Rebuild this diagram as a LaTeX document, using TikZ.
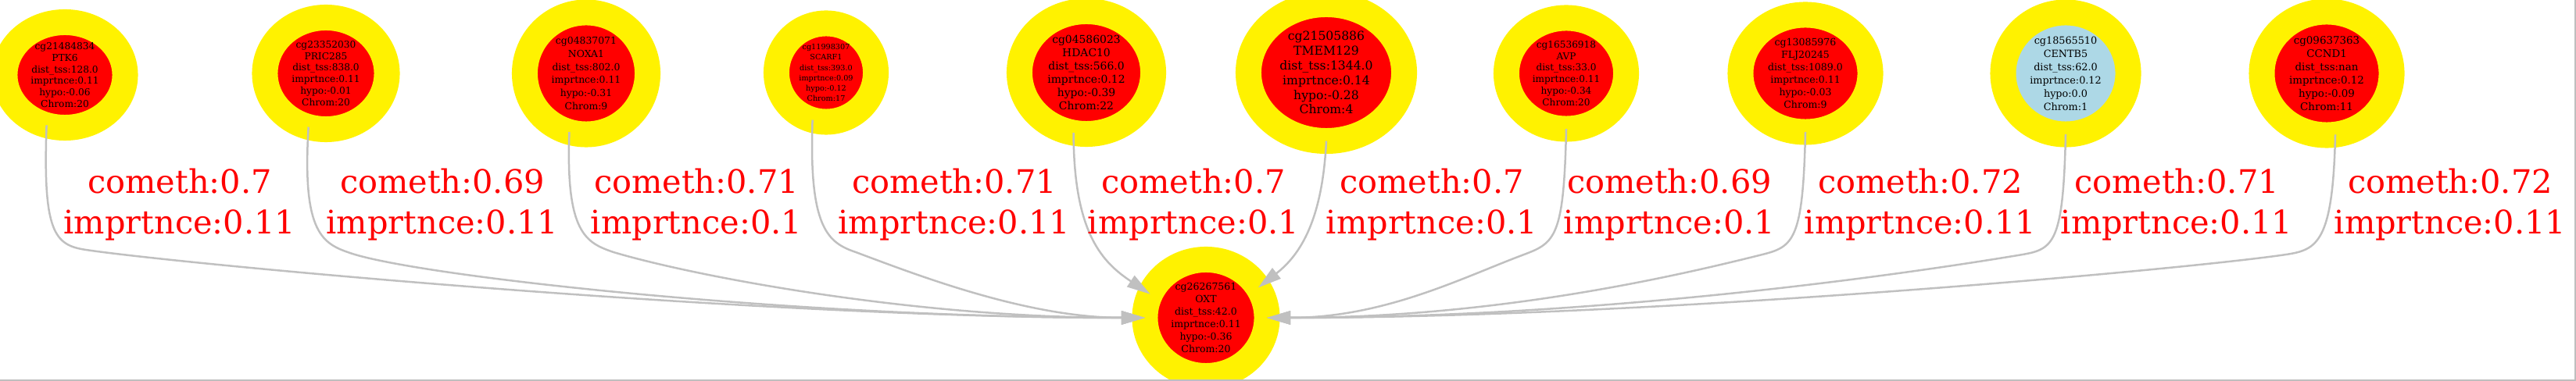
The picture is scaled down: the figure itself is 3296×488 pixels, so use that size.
\documentclass[tikz,border=0pt]{standalone}
\usepackage{fontspec}
\setmainfont{DejaVu Serif}
\usetikzlibrary{shapes.geometric,arrows.meta}

\definecolor{edgegray}{HTML}{C0C0C0}
\definecolor{lightblue}{HTML}{ADD8E6}

\tikzset{
  cpg/.style n args={5}{ellipse, fill=#5, draw=yellow, line width=0.33cm,
    inner sep=0pt, outer sep=0pt, minimum width=#1, minimum height=#2,
    align=center, text=black, font=\fontsize{#3}{#4}\selectfont},
  cometh/.style={draw=edgegray, line width=0.025cm},
  colab/.style={text=red, align=center, font=\fontsize{11.8}{14.6}\selectfont}
}

\begin{document}
\begin{tikzpicture}[x=0.01cm, y=0.01cm, >={Triangle[length=0.3cm,width=0.17cm]}]
\useasboundingbox (0,0) rectangle (3296,488);

% 上排 CpG 节点
\node[cpg={1.54cm}{1.35cm}{3.47}{4.21}{red}] (n1) at (83,392) {cg21484834\\PTK6\\dist\_tss:128.0\\imprtnce:0.11\\hypo:-0.06\\Chrom:20};
\node[cpg={1.56cm}{1.43cm}{3.47}{4.24}{red}] (n2) at (417,394) {cg23352030\\PRIC285\\dist\_tss:838.0\\imprtnce:0.11\\hypo:-0.01\\Chrom:20};
\node[cpg={1.57cm}{1.56cm}{3.53}{4.75}{red}] (n3) at (750,394) {cg04837071\\NOXA1\\dist\_tss:802.0\\imprtnce:0.11\\hypo:-0.31\\Chrom:9};
\node[cpg={1.27cm}{1.26cm}{2.75}{3.70}{red}] (n4) at (1057,395) {cg11998307\\SCARF1\\dist\_tss:393.0\\imprtnce:0.09\\hypo:-0.12\\Chrom:17};
\node[cpg={1.71cm}{1.57cm}{3.95}{4.81}{red}] (n5) at (1390,395) {cg04586023\\HDAC10\\dist\_tss:566.0\\imprtnce:0.12\\hypo:-0.39\\Chrom:22};
\node[cpg={1.99cm}{1.75cm}{4.44}{5.38}{red}] (n6) at (1697,395) {cg21505886\\TMEM129\\dist\_tss:1344.0\\imprtnce:0.14\\hypo:-0.28\\Chrom:4};
\node[cpg={1.53cm}{1.42cm}{3.44}{4.21}{red}] (n7) at (2004,394) {cg16536918\\AVP\\dist\_tss:33.0\\imprtnce:0.11\\hypo:-0.34\\Chrom:20};
\node[cpg={1.66cm}{1.50cm}{3.56}{4.55}{red}] (n8) at (2310,394) {cg13085976\\FLJ20245\\dist\_tss:1089.0\\imprtnce:0.11\\hypo:-0.03\\Chrom:9};
\node[cpg={1.60cm}{1.56cm}{3.64}{4.84}{lightblue}] (n9) at (2643,394) {cg18565510\\CENTB5\\dist\_tss:62.0\\imprtnce:0.12\\hypo:0.0\\Chrom:1};
\node[cpg={1.66cm}{1.58cm}{3.81}{4.81}{red}] (n10) at (2977,394) {cg09637363\\CCND1\\dist\_tss:nan\\imprtnce:0.12\\hypo:-0.09\\Chrom:11};

% 下方目标节点
\node[cpg={1.56cm}{1.49cm}{3.56}{4.55}{red}] (oxt) at (1543,81) {cg26267561\\OXT\\dist\_tss:42.0\\imprtnce:0.11\\hypo:-0.36\\Chrom:20};

% 拐点
\coordinate (b1) at (110,168);
\coordinate (b2) at (445,165);
\coordinate (b3) at (785,165);
\coordinate (b4) at (1095,165);
\coordinate (b7) at (1950,162);
\coordinate (b8) at (2255,162);
\coordinate (b9) at (2588,162);
\coordinate (b10) at (2925,162);

% 连线（左侧进入）
\draw[cometh,->] (n1.-110) .. controls +(-5,-138) and +(-40,6) .. (b1) .. controls +(120,-18) and +(-500,0) .. (oxt.west);
\draw[cometh,->] (n2.-108) .. controls +(-8,-130) and +(-35,12) .. (b2) .. controls +(80,-30) and +(-450,0) .. (oxt.west);
\draw[cometh,->] (n3.-106) .. controls +(-5,-130) and +(-35,12) .. (b3) .. controls +(100,-30) and +(-300,0) .. (oxt.west);
\draw[cometh,->] (n4.-106) .. controls +(-5,-140) and +(-35,12) .. (b4) .. controls +(80,-30) and +(-150,0) .. (oxt.west);
\draw[cometh,->] (n5.-102) .. controls +(0,-130) and +(-60,40) .. (oxt.157);

% 连线（右侧进入）
\draw[cometh,->] (n6.south) .. controls +(-5,-100) and +(55,43) .. (oxt.30);
\draw[cometh,->] (n7.south) .. controls +(-3,-138) and +(40,15) .. (b7) .. controls +(-80,-30) and +(150,0) .. (oxt.east);
\draw[cometh,->] (n8.south) .. controls +(-3,-138) and +(40,10) .. (b8) .. controls +(-100,-25) and +(300,0) .. (oxt.east);
\draw[cometh,->] (n9.south) .. controls +(-3,-138) and +(40,7) .. (b9) .. controls +(-120,-20) and +(450,0) .. (oxt.east);
\draw[cometh,->] (n10.-82) .. controls +(-3,-138) and +(40,6) .. (b10) .. controls +(-120,-18) and +(500,0) .. (oxt.east);

% 边标签
\node[colab] (l1) at (230,226) {cometh:0.7\\imprtnce:0.11};
\node[colab] (l2) at (566,226) {cometh:0.69\\imprtnce:0.11};
\node[colab] (l3) at (891,226) {cometh:0.71\\imprtnce:0.1};
\node[colab] (l4) at (1221,226) {cometh:0.71\\imprtnce:0.11};
\node[colab] (l5) at (1527,226) {cometh:0.7\\imprtnce:0.1};
\node[colab] (l6) at (1832,226) {cometh:0.7\\imprtnce:0.1};
\node[colab] (l7) at (2136,226) {cometh:0.69\\imprtnce:0.1};
\node[colab] (l8) at (2457,226) {cometh:0.72\\imprtnce:0.11};
\node[colab] (l9) at (2785,226) {cometh:0.71\\imprtnce:0.11};
\node[colab] (l10) at (3135,226) {cometh:0.72\\imprtnce:0.11};

% 边框
\draw[black!25, line width=0.02cm] (0,1) -- (3295,1) -- (3295,488);

\end{tikzpicture}
\end{document}
